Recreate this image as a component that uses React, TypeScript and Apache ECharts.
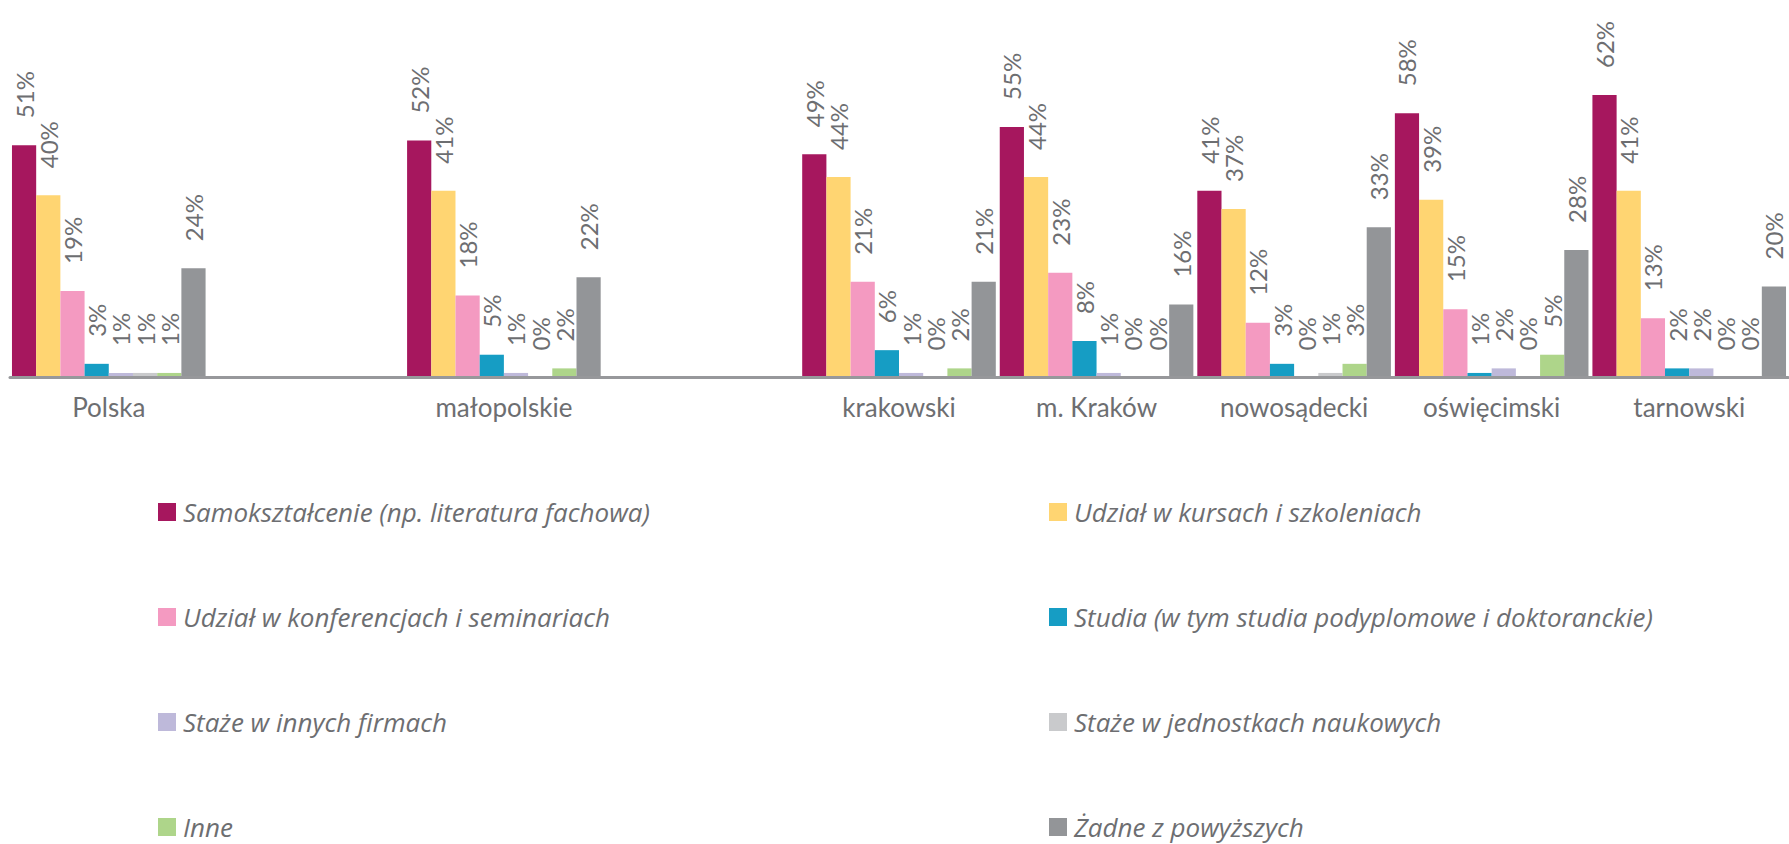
import React, { useEffect, useRef } from "react";
import * as echarts from "echarts";

const categories = ["Polska", "", "małopolskie", "", "krakowski", "m. Kraków", "nowosądecki", "oświęcimski", "tarnowski"];

const seriesNames = [
  "Samokształcenie (np. literatura fachowa)",
  "Udział w kursach i szkoleniach",
  "Udział w konferencjach i seminariach",
  "Studia (w tym studia podyplomowe i doktoranckie)",
  "Staże w innych firmach",
  "Staże w jednostkach naukowych",
  "Inne",
  "Żadne z powyższych",
];

const colors = ["#A6175E", "#FFD572", "#F49AC1", "#169DC4", "#BEB9DA", "#C9CACC", "#AED58A", "#939598"];

// values per series, aligned with categories (null = empty slot)
const samoksztalcenie = [51, null, 52, null, 49, 55, 41, 58, 62];
const kursy = [40, null, 41, null, 44, 44, 37, 39, 41];
const konferencje = [19, null, 18, null, 21, 23, 12, 15, 13];
const studia = [3, null, 5, null, 6, 8, 3, 1, 2];
const stazeFirmy = [1, null, 1, null, 1, 1, 0, 2, 2];
const stazeNauka = [1, null, 0, null, 0, 0, 1, 0, 0];
const inne = [1, null, 2, null, 2, 0, 3, 5, 0];
const zadne = [24, null, 22, null, 21, 16, 33, 28, 20];

const seriesValues = [samoksztalcenie, kursy, konferencje, studia, stazeFirmy, stazeNauka, inne, zadne];

const TEXT = "#6d6e71";

export default function App() {
  const ref = useRef<HTMLDivElement>(null);
  useEffect(() => {
    if (!ref.current) return;
    const chart = echarts.init(ref.current, null, { renderer: "svg" });
    const legendCommon = {
      orient: "vertical",
      icon: "rect",
      itemWidth: 18,
      itemHeight: 18,
      itemGap: 79,
      padding: 0,
      top: 499,
      selectedMode: false,
      textStyle: {
        color: TEXT,
        fontFamily: "Open Sans",
        fontStyle: "italic",
        fontSize: 26,
        lineHeight: 26,
        padding: [0, 0, 0, 2],
      },
    };
    chart.setOption({
      animation: false,
      color: colors,
      grid: { left: 10, width: 1778, top: 13, bottom: 466.5, containLabel: false },
      legend: [
        { ...legendCommon, left: 158, data: [seriesNames[0], seriesNames[2], seriesNames[4], seriesNames[6]] },
        { ...legendCommon, left: 1049, data: [seriesNames[1], seriesNames[3], seriesNames[5], seriesNames[7]] },
      ],
      xAxis: {
        type: "category",
        data: categories,
        axisTick: { show: false },
        axisLine: { show: true, lineStyle: { color: "#97989b", width: 3 } },
        axisLabel: { color: TEXT, fontFamily: "Lato", fontSize: 26, margin: 16, interval: 0 },
        z: 10,
      },
      yAxis: {
        type: "value",
        min: 0,
        max: 80,
        show: false,
        splitLine: { show: false },
      },
      series: seriesNames.map((name, i) => ({
        name,
        type: "bar",
        data: seriesValues[i],
        barGap: "0%",
        barCategoryGap: "2%",
        itemStyle: { color: colors[i] },
        label: {
          show: true,
          position: "top",
          rotate: 90,
          align: "left",
          verticalAlign: "middle",
          distance: 27,
          offset: [0, 0],
          formatter: "{c}%",
          color: TEXT,
          fontFamily: "Lato",
          fontSize: 24,
          lineHeight: 18,
        },
      })),
    });
    return () => chart.dispose();
  }, []);
  return <div ref={ref} style={{ position: "absolute", left: 0, top: 0, width: 1789, height: 844 }} />;
}
